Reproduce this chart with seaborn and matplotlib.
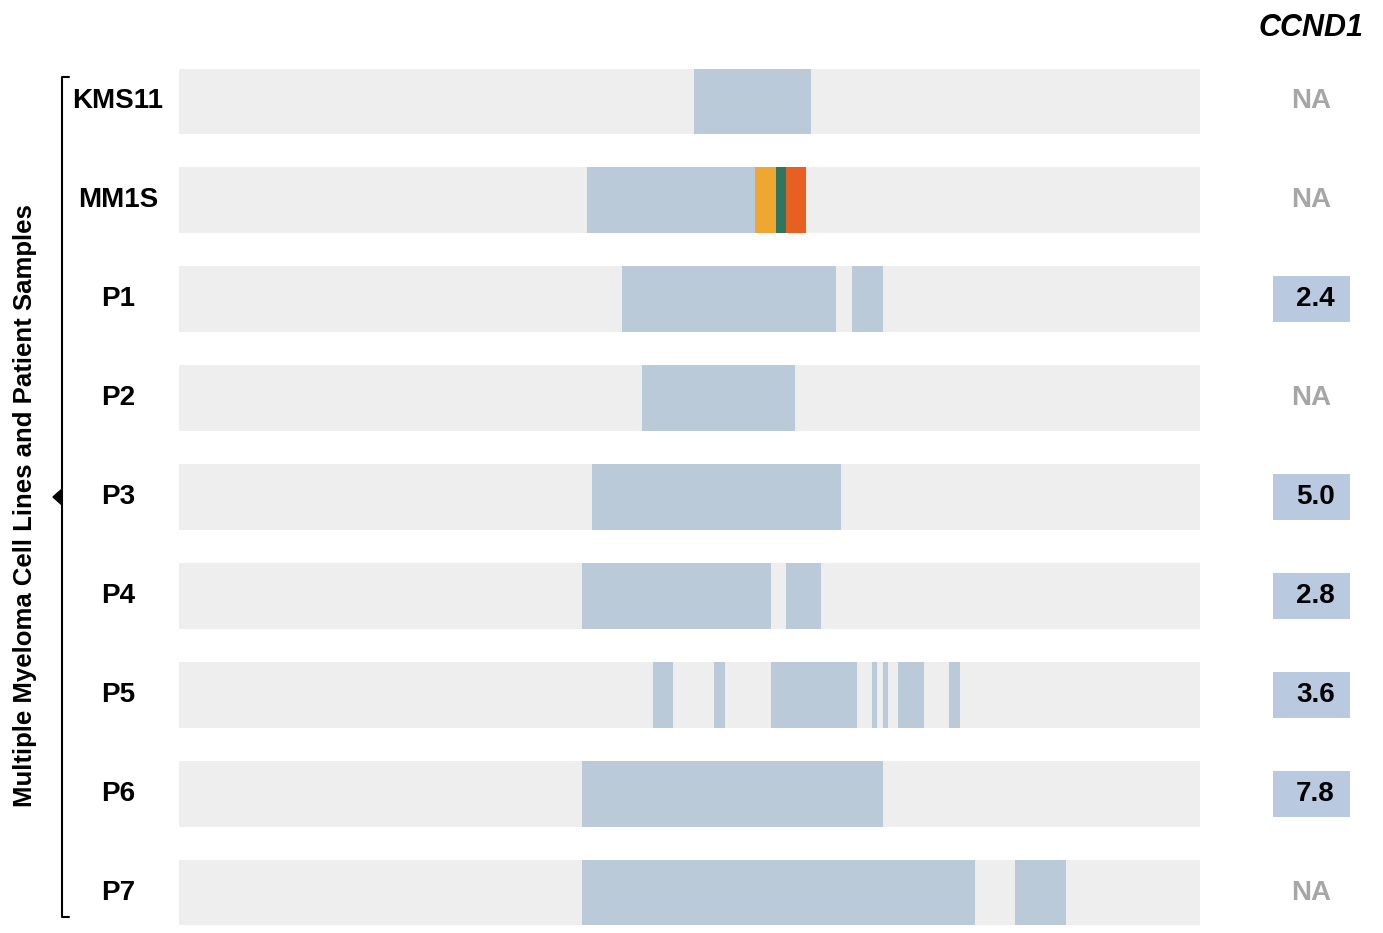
import numpy as np
import pandas as pd
import matplotlib.pyplot as plt
import seaborn as sns
from matplotlib.patches import Polygon

sns.set_style("white")
plt.rcParams['font.family'] = ['Liberation Sans', 'DejaVu Sans']
plt.rcParams['text.color'] = 'black'

# samples (top to bottom)
samples = ["KMS11", "MM1S", "P1", "P2", "P3", "P4", "P5", "P6", "P7"]
track_length = 1021

# altered segments per sample: (start, end, kind)
seg_sample = ["KMS11",
              "MM1S", "MM1S", "MM1S", "MM1S",
              "P1", "P1",
              "P2",
              "P3",
              "P4", "P4",
              "P5", "P5", "P5", "P5", "P5", "P5", "P5",
              "P6",
              "P7", "P7"]
seg_start = [515,
             408, 576, 597, 607,
             443, 673,
             463,
             413,
             403, 607,
             474, 535, 592, 693, 704, 719, 770,
             403,
             403, 836]
seg_end = [632,
           576, 597, 607, 627,
           657, 704,
           616,
           662,
           592, 642,
           494, 546, 678, 698, 709, 745, 781,
           704,
           796, 887]
seg_kind = ["amp",
            "amp", "a", "b", "c",
            "amp", "amp",
            "amp",
            "amp",
            "amp", "amp",
            "amp", "amp", "amp", "amp", "amp", "amp", "amp",
            "amp",
            "amp", "amp"]

# CCND1 expression (None = NA)
ccnd1 = [None, None, 2.4, None, 5.0, 2.8, 3.6, 7.8, None]

kind_colors = {"amp": "#bacad9", "a": "#f0a732", "b": "#2f7560", "c": "#e85f22"}

W, H = 1383, 933
fig = plt.figure(figsize=(W / 100, H / 100), dpi=100)

ylim = (8.4096, -0.5)
top_px = 52.06
ax = fig.add_axes([179 / W, 0, track_length / W, (H - top_px) / H])

bg = pd.DataFrame({"sample": samples, "length": track_length})
sns.barplot(data=bg, x="length", y="sample", orient="h", color="#eeeeee",
            saturation=1, width=0.667, linewidth=0, ax=ax)

segs = pd.DataFrame({"sample": seg_sample, "start": seg_start,
                     "end": seg_end, "kind": seg_kind})
segs["row"] = segs["sample"].map({s: i for i, s in enumerate(samples)})
ax.barh(segs["row"], segs["end"] - segs["start"], left=segs["start"],
        height=0.667, color=segs["kind"].map(kind_colors), linewidth=0)

ax.set_xlim(0, track_length)
ax.set_ylim(*ylim)
ax.set_xlabel("")
ax.set_ylabel("")
ax.set_xticks([])
ax.set_yticks([])
sns.despine(ax=ax, left=True, bottom=True)

for i, s in enumerate(samples):
    ax.text(-61, i, s, ha="center", va="center", fontsize=20,
            fontweight="bold", clip_on=False)

# CCND1 column
ax2 = fig.add_axes([1273 / W, 0, 77 / W, (H - top_px) / H])
ax2.set_xlim(0, 1)
ax2.set_ylim(*ylim)
ax2.axis("off")
for i, v in enumerate(ccnd1):
    if v is None:
        ax2.text(0.49, i, "NA", ha="center", va="center", fontsize=20,
                 fontweight="bold", color="#a6a6a6")
    else:
        ax2.barh(i, 1, left=0, height=0.465, color="#b9c9e0", linewidth=0)
        ax2.text(0.55, i, f"{v:.1f}", ha="center", va="center",
                 fontsize=20, fontweight="bold", color="black")

# overlay for header and bracket
ov = fig.add_axes([0, 0, 1, 1])
ov.set_xlim(0, W)
ov.set_ylim(H, 0)
ov.axis("off")
ov.patch.set_alpha(0)
ov.text(1311, 28, "CCND1", ha="center", va="center", fontsize=22,
        fontweight="bold", fontstyle="italic")
ov.plot([69, 62, 62, 69], [77, 77, 917, 917], color="black", lw=1.5)
ov.add_patch(Polygon([[53, 497], [62, 489], [62, 505]], closed=True,
                     color="black"))
ov.text(25, 506, "Multiple Myeloma Cell Lines and Patient Samples",
        rotation=90, ha="center", va="center", fontsize=18.5, fontweight="bold")

fig.savefig("out.png", dpi=100)
